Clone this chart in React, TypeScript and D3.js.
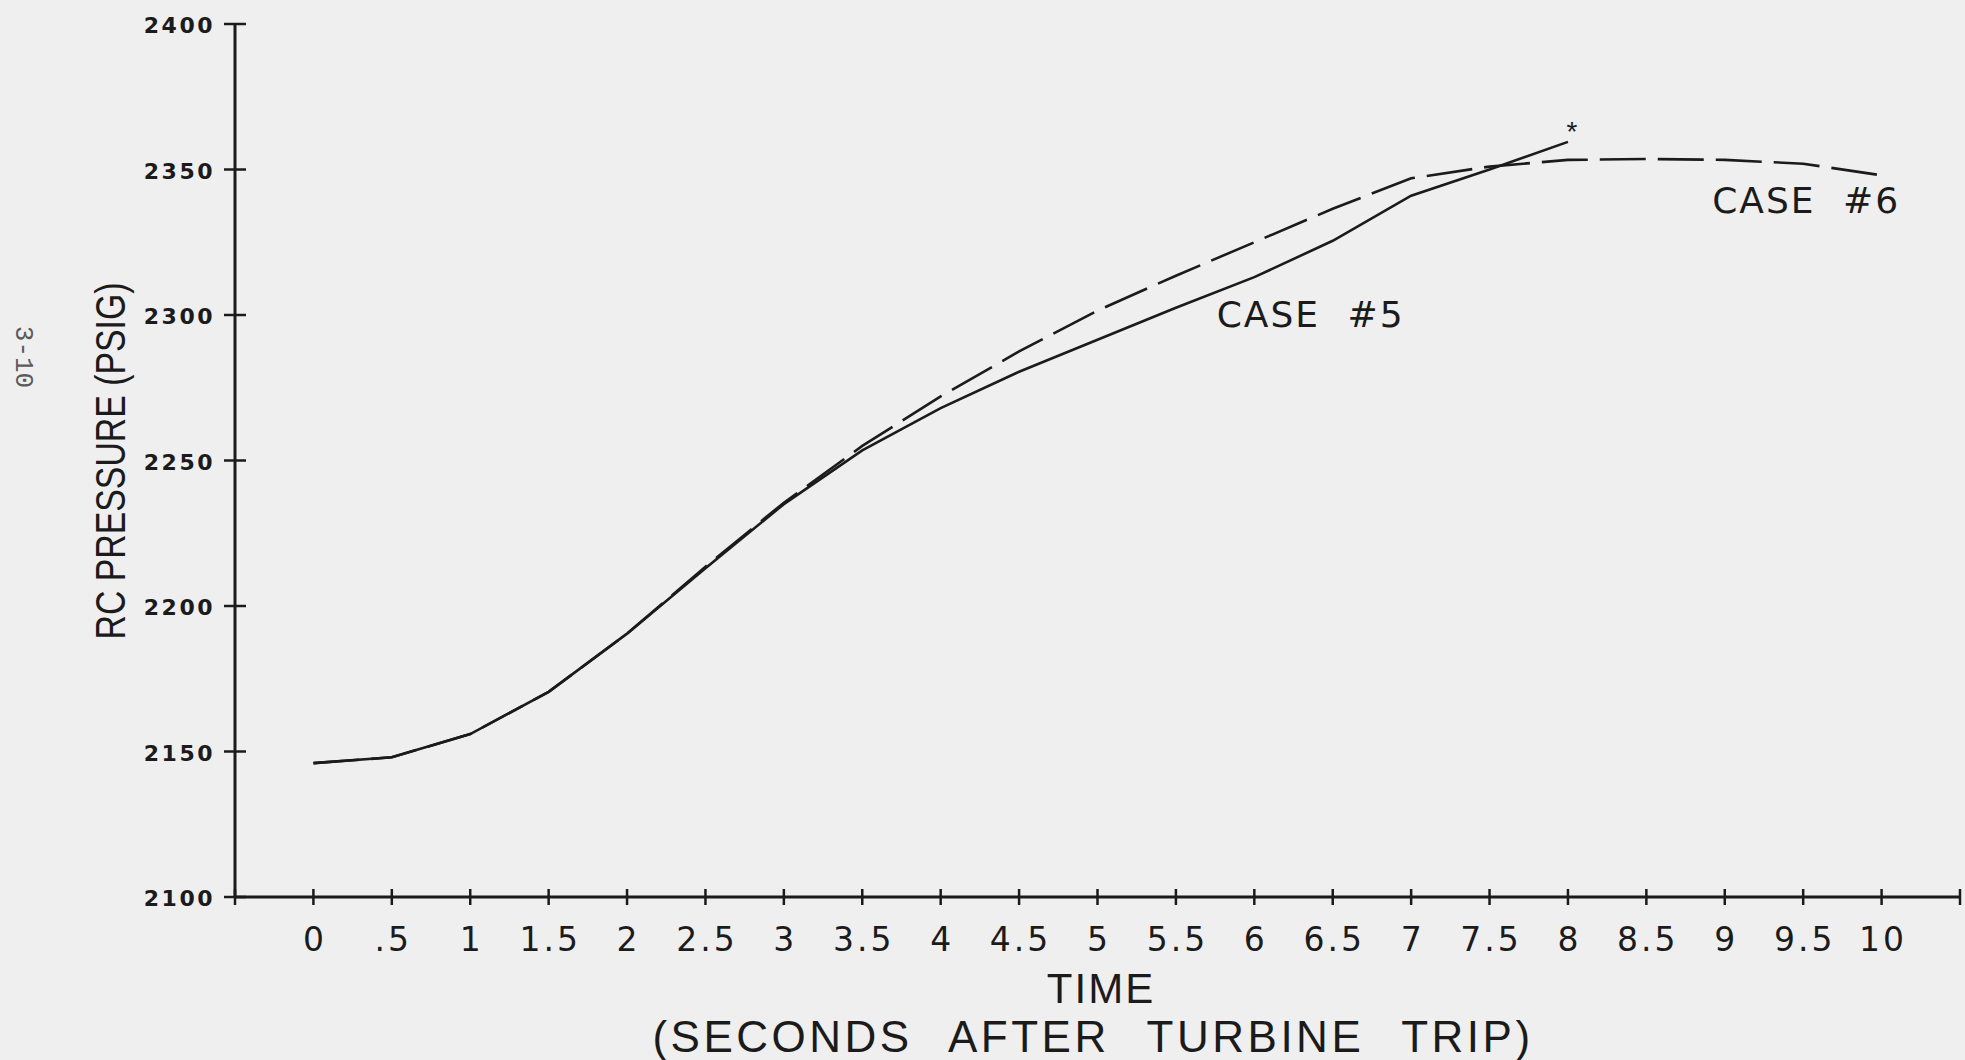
import React, { useEffect, useRef } from 'react';
import * as d3 from 'd3';

// time (s after turbine trip) and RC pressure (psig)
const CASE5_TIME = [0, 0.5, 1, 1.5, 2, 2.5, 3, 3.5, 4, 4.5, 5, 5.5, 6, 6.5, 7, 7.5, 8];
const CASE5_PSIG = [2146, 2148, 2156, 2170.5, 2190.5, 2213, 2235, 2253.5, 2268, 2280.5, 2291.5, 2302.5, 2313, 2325.5, 2341, 2350, 2359.5];

const CASE6_TIME = [0, 0.5, 1, 1.5, 2, 2.5, 3, 3.5, 4, 4.5, 5, 5.5, 6, 6.5, 7, 7.5, 8, 8.5, 9, 9.5, 10];
const CASE6_PSIG = [2146, 2148, 2156, 2170.5, 2190.5, 2213.5, 2235.5, 2255, 2272, 2287.5, 2301.5, 2313.5, 2325, 2336.5, 2347, 2351, 2353.3, 2353.6, 2353.3, 2352, 2348];

const X_TICKS = [-0.5, 0, 0.5, 1, 1.5, 2, 2.5, 3, 3.5, 4, 4.5, 5, 5.5, 6, 6.5, 7, 7.5, 8, 8.5, 9, 9.5, 10, 10.5];
const X_TICK_LABELS = ['', '0', '.5', '1', '1.5', '2', '2.5', '3', '3.5', '4', '4.5', '5', '5.5', '6', '6.5', '7', '7.5', '8', '8.5', '9', '9.5', '10', ''];
const Y_TICKS = [2100, 2150, 2200, 2250, 2300, 2350, 2400];

const INK = '#1b1b1b';
const PAPER = '#efefef';

const App = () => {
    const svgRef = useRef<SVGSVGElement>(null);
    const width = 1965;
    const height = 1060;

    useEffect(() => {
        document.body.style.margin = '0';
        const svg = d3.select(svgRef.current);
        svg.selectAll('*').remove();

        const x = d3.scaleLinear().domain([-0.5, 10.5]).range([235, 1960]);
        const y = d3.scaleLinear().domain([2100, 2400]).range([897, 24]);

        svg.append('rect').attr('width', width).attr('height', height).attr('fill', PAPER);

        // axes
        svg.append('line')
            .attr('x1', x(-0.5)).attr('x2', x(-0.5))
            .attr('y1', y(2400) - 1).attr('y2', y(2100))
            .attr('stroke', INK).attr('stroke-width', 3);
        svg.append('line')
            .attr('x1', x(-0.5)).attr('x2', x(10.5))
            .attr('y1', y(2100)).attr('y2', y(2100))
            .attr('stroke', INK).attr('stroke-width', 3);

        svg.selectAll('.ytick')
            .data(Y_TICKS)
            .enter()
            .append('line')
            .attr('x1', x(-0.5) - 11).attr('x2', x(-0.5) + 11)
            .attr('y1', d => y(d)).attr('y2', d => y(d))
            .attr('stroke', INK).attr('stroke-width', 2.5);

        svg.selectAll('.ylabel')
            .data(Y_TICKS)
            .enter()
            .append('text')
            .attr('x', 215)
            .attr('y', d => y(d) + 9)
            .attr('text-anchor', 'end')
            .style('font-family', 'DejaVu Sans')
            .style('font-weight', 'bold')
            .style('font-size', '22px')
            .style('letter-spacing', '2.5px')
            .style('fill', INK)
            .text(d => d);

        svg.selectAll('.xtick')
            .data(X_TICKS)
            .enter()
            .append('line')
            .attr('x1', d => x(d)).attr('x2', d => x(d))
            .attr('y1', y(2100) - 8).attr('y2', y(2100) + 8)
            .attr('stroke', INK).attr('stroke-width', 2.5);

        svg.selectAll('.xlabel')
            .data(X_TICKS)
            .enter()
            .append('text')
            .attr('x', d => x(d) + 1.5)
            .attr('y', 951)
            .attr('text-anchor', 'middle')
            .style('font-family', 'DejaVu Sans')
            .style('font-size', '33px')
            .style('letter-spacing', '3px')
            .style('fill', INK)
            .text((d, i) => X_TICK_LABELS[i]);

        // axis titles
        svg.append('text')
            .attr('x', 1101).attr('y', 1003)
            .attr('text-anchor', 'middle')
            .style('font-family', 'Liberation Sans')
            .style('font-size', '42px')
            .style('letter-spacing', '2px')
            .style('fill', INK)
            .text('TIME');

        svg.append('text')
            .attr('x', 1093).attr('y', 1052)
            .attr('text-anchor', 'middle')
            .style('font-family', 'Liberation Sans')
            .style('font-size', '44px')
            .style('letter-spacing', '3.5px')
            .style('word-spacing', '22px')
            .style('fill', INK)
            .text('(SECONDS AFTER TURBINE TRIP)');

        svg.append('text')
            .attr('transform', 'translate(125,461) rotate(-90)')
            .attr('text-anchor', 'middle')
            .attr('textLength', 357)
            .attr('lengthAdjust', 'spacingAndGlyphs')
            .style('font-family', 'Liberation Sans')
            .style('font-size', '42px')
            .style('fill', INK)
            .text('RC PRESSURE (PSIG)');

        // page number in the margin
        svg.append('text')
            .attr('transform', 'translate(16,357) rotate(90)')
            .attr('text-anchor', 'middle')
            .style('font-family', 'Liberation Mono')
            .style('font-size', '26px')
            .style('fill', '#5a5a5a')
            .text('3-10');

        // curves
        const line = d3.line<number>()
            .x((d, i) => x(CASE5_TIME[i]))
            .y(d => y(d));
        const line6 = d3.line<number>()
            .x((d, i) => x(CASE6_TIME[i]))
            .y(d => y(d));

        svg.append('path')
            .attr('d', line6(CASE6_PSIG))
            .attr('fill', 'none')
            .attr('stroke', INK)
            .attr('stroke-width', 2.6)
            .attr('stroke-dasharray', '46 12');

        svg.append('path')
            .attr('d', line(CASE5_PSIG))
            .attr('fill', 'none')
            .attr('stroke', INK)
            .attr('stroke-width', 2.6);

        const lastT = CASE5_TIME[CASE5_TIME.length - 1];
        const lastP = CASE5_PSIG[CASE5_PSIG.length - 1];
        svg.append('text')
            .attr('x', x(lastT) + 4)
            .attr('y', y(lastP) - 1)
            .attr('text-anchor', 'middle')
            .style('font-family', 'Liberation Sans')
            .style('font-size', '28px')
            .style('fill', INK)
            .text('*');

        // case labels
        const caseLabels = [
            { t: 5.76, p: 2296, text: 'CASE #5' },
            { t: 8.92, p: 2335, text: 'CASE #6' },
        ];
        svg.selectAll('.case')
            .data(caseLabels)
            .enter()
            .append('text')
            .attr('x', d => x(d.t))
            .attr('y', d => y(d.p))
            .style('font-family', 'DejaVu Sans')
            .style('font-size', '36px')
            .style('letter-spacing', '2px')
            .style('word-spacing', '14px')
            .style('fill', INK)
            .text(d => d.text);
    }, []);

    return (
        <div style={{ width: width, height: height, overflow: 'hidden' }}>
            <svg ref={svgRef} width={width} height={height} style={{ display: 'block' }}></svg>
        </div>
    );
};

export default App;
